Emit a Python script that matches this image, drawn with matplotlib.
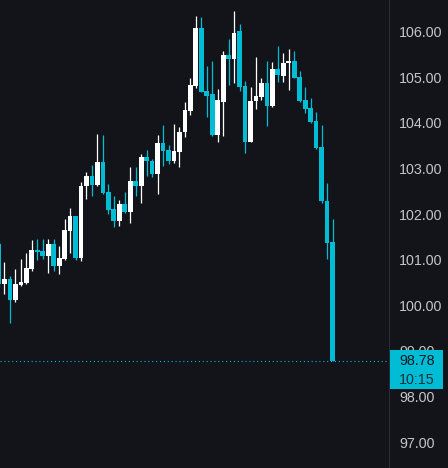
import numpy as np
import matplotlib
matplotlib.use("Agg")
import matplotlib.pyplot as plt
from matplotlib.patches import Rectangle
from matplotlib import transforms

plt.rcParams['font.family'] = ['Liberation Sans', 'DejaVu Sans']

# OHLC (oldest first)
opens = [101.34, 100.47, 100.58, 100.11, 100.44, 100.49, 100.80, 101.21, 101.19, 101.08,
         101.34, 100.86, 101.02, 101.63, 101.96, 101.04, 102.61, 102.84, 102.64, 103.15,
         102.49, 102.12, 101.85, 102.23, 102.05, 102.73, 102.61, 103.25, 103.17, 102.87,
         103.56, 103.40, 103.17, 103.36, 103.80, 104.26, 104.81, 106.09, 104.70, 104.63,
         103.73, 104.46, 105.49, 105.40, 106.01, 104.81, 103.58, 104.48, 104.57, 104.87,
         104.37, 105.18, 105.03, 105.31, 105.36, 105.01, 104.50, 104.32, 104.04, 103.47,
         102.29, 101.39]
highs = [101.40, 100.94, 100.64, 100.79, 101.02, 101.15, 101.43, 101.46, 101.46, 101.46,
         101.46, 101.30, 101.89, 102.14, 101.96, 102.70, 102.92, 103.08, 103.76, 103.73,
         102.66, 102.40, 102.31, 102.49, 103.04, 103.03, 103.32, 103.40, 103.21, 103.74,
         103.95, 103.51, 103.97, 103.91, 104.46, 104.99, 106.35, 106.32, 105.25, 105.36,
         104.74, 105.57, 105.85, 106.45, 106.17, 104.92, 104.79, 105.45, 104.99, 105.36,
         105.34, 105.68, 105.54, 105.62, 105.57, 105.14, 104.79, 104.54, 104.23, 103.95,
         102.69, 101.90]
lows = [100.40, 100.24, 99.60, 100.08, 100.42, 100.47, 100.75, 101.00, 101.02, 100.71,
        100.75, 100.68, 101.00, 101.15, 101.00, 100.97, 102.34, 102.39, 102.61, 102.44,
        102.00, 101.72, 101.74, 102.03, 101.81, 102.40, 102.25, 102.84, 102.81, 102.45,
        103.05, 103.10, 103.11, 103.03, 103.69, 104.17, 104.77, 104.67, 104.13, 103.71,
        103.59, 103.71, 104.83, 104.87, 104.70, 103.34, 103.58, 104.30, 104.50, 103.93,
        104.35, 104.90, 104.90, 104.72, 104.99, 104.46, 104.21, 104.00, 103.42, 102.25,
        101.02, 98.78]
closes = [100.46, 100.58, 100.11, 100.47, 100.50, 100.82, 101.21, 101.17, 101.08, 101.34,
          100.86, 101.04, 101.65, 101.96, 101.04, 102.62, 102.84, 102.64, 103.15, 102.47,
          102.09, 101.85, 102.23, 102.05, 102.73, 102.61, 103.25, 103.16, 102.87, 103.56,
          103.38, 103.17, 103.38, 103.81, 104.28, 104.83, 106.09, 104.68, 104.59, 103.73,
          104.50, 105.49, 105.40, 105.97, 104.79, 103.58, 104.48, 104.59, 104.87, 104.37,
          105.18, 105.04, 105.32, 105.36, 104.99, 104.48, 104.30, 104.02, 103.45, 102.28,
          101.37, 98.78]
price_ticks = [97, 98, 99, 100, 101, 102, 103, 104, 105, 106]
last_price = 98.78
countdown = "10:15"

bg = '#12141a'
up_col = '#ffffff'
down_col = '#00bcd4'
text_col = '#c3c6cc'

o = np.array(opens)
h = np.array(highs)
l = np.array(lows)
c = np.array(closes)
x = np.arange(len(o))
cols = [up_col if cc >= oo else down_col for oo, cc in zip(o, c)]

fig = plt.figure(figsize=(4.48, 4.68), dpi=100, facecolor=bg)
ax = fig.add_axes([0, 0, 389 / 448, 1], facecolor=bg)

# wicks + bodies
ax.vlines(x, l, h, colors=cols, linewidth=0.9, zorder=2)
body = np.maximum(np.abs(c - o), 0.03)
ax.bar(x, body, bottom=np.minimum(o, c), width=0.86, color=cols, linewidth=0, zorder=3)

# last price dotted line
ax.axhline(last_price, color=down_col, linewidth=0.8, linestyle=(0, (1, 2.5)), zorder=1)

ax.set_xlim(0.18, 71.33)
ax.set_ylim(96.43, 106.695)

ax.yaxis.tick_right()
ax.set_yticks(price_ticks)
ax.set_yticklabels([f"{v:.2f}" for v in price_ticks])
ax.tick_params(axis='y', length=0, pad=7.2, labelsize=10.3, labelcolor=text_col)
ax.set_xticks([])
for side in ['top', 'bottom', 'left']:
    ax.spines[side].set_visible(False)
ax.spines['right'].set_color('#2a2d35')
ax.spines['right'].set_linewidth(0.8)

# last price label box on the price scale
tr = transforms.blended_transform_factory(fig.transFigure, ax.transData)
box = Rectangle((389.5 / 448, last_price - 0.625), 53 / 448, 0.855,
                transform=tr, facecolor=down_col, edgecolor='none', zorder=5)
fig.add_artist(box)
fig.text(399 / 448, last_price, f"{last_price:.2f}", transform=tr, ha='left', va='center',
         fontsize=10.3, color='#131722', zorder=6)
fig.text(399 / 448, last_price - 0.42, countdown, transform=tr, ha='left', va='center',
         fontsize=10.3, color='#15323a', zorder=6)

fig.savefig('out.png', dpi=100, facecolor=bg)
